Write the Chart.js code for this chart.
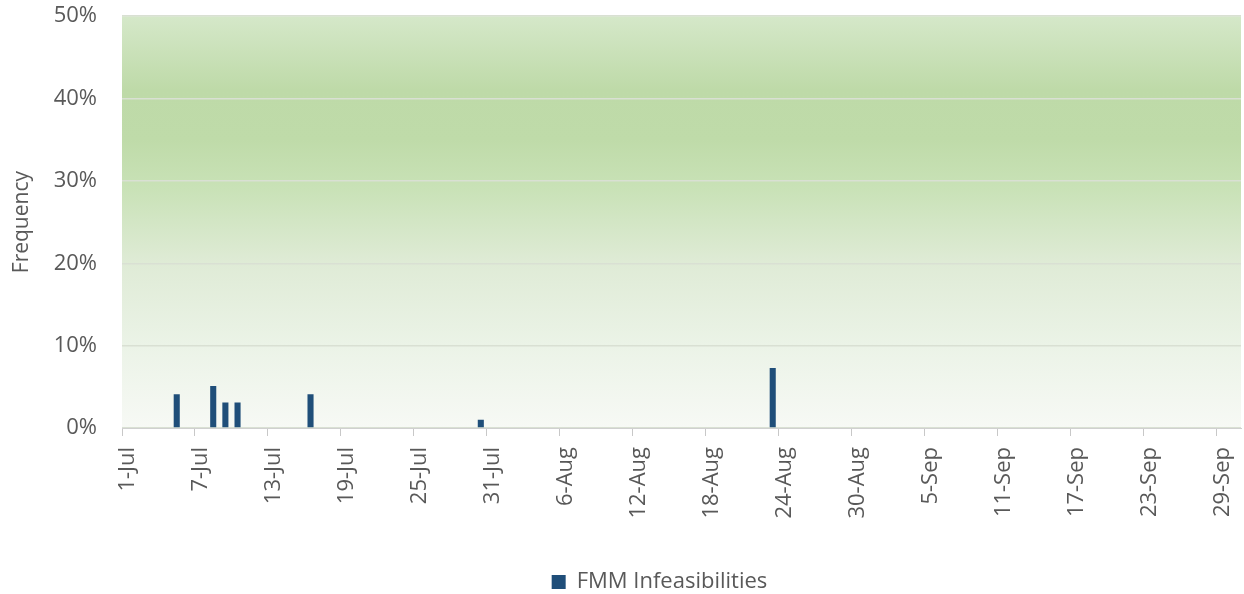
<!DOCTYPE html>
<html>
<head>
<meta charset="utf-8">
<title>FMM Infeasibilities</title>
<script src="https://cdn.jsdelivr.net/npm/chart.js@4.4.1/dist/chart.umd.min.js"></script>
<style>
    html, body { margin: 0; padding: 0; background: #fff; }
    #wrap { width: 1244px; height: 594px; }
</style>
</head>
<body>
<div id="wrap"><canvas id="freqChart" width="1244" height="594"></canvas></div>
<script>
// Months covered by the axis and their lengths
const months = ['Jul', 'Aug', 'Sep'];
const monthDays = [31, 31, 30];

// Labelled ticks (every 6 days)
const tickLabels = ['1-Jul', '7-Jul', '13-Jul', '19-Jul', '25-Jul', '31-Jul', '6-Aug', '12-Aug',
    '18-Aug', '24-Aug', '30-Aug', '5-Sep', '11-Sep', '17-Sep', '23-Sep', '29-Sep'];

// Days with infeasibilities and their frequency (%)
const barDates = ['5-Jul', '8-Jul', '9-Jul', '10-Jul', '16-Jul', '30-Jul', '23-Aug'];
const barValues = [4.1, 5.1, 3.1, 3.1, 4.1, 1.0, 7.3];

const yTicks = [0, 10, 20, 30, 40, 50];

// one category per day
const categories = [];
months.forEach((m, i) => {
    for (let d = 1; d <= monthDays[i]; d++) categories.push(d + '-' + m);
});
const seriesData = categories.map(c => {
    const k = barDates.indexOf(c);
    return k >= 0 ? barValues[k] : null;
});

const textColor = '#595959';
const fontFamily = '"Open Sans", "Liberation Sans", sans-serif';

// green gradient behind the plot area
const plotBackground = {
    id: 'plotBackground',
    beforeDraw(chart) {
        const { ctx, chartArea: a } = chart;
        const g = ctx.createLinearGradient(0, a.top, 0, a.bottom);
        g.addColorStop(0, '#d5e8c9');
        g.addColorStop(0.18, '#bedaa8');
        g.addColorStop(0.3, '#bfdba9');
        g.addColorStop(0.42, '#c9e2b7');
        g.addColorStop(0.6, '#dfebd6');
        g.addColorStop(0.8, '#ebf3e7');
        g.addColorStop(1, '#f7f9f5');
        ctx.save();
        ctx.fillStyle = g;
        ctx.fillRect(a.left, a.top, a.right - a.left, a.bottom - a.top);
        ctx.restore();
    }
};

// move the legend a little right and down, like the original
const legendNudge = {
    id: 'legendNudge',
    afterLayout(chart) {
        const lg = chart.legend;
        lg.left += 39;
        lg.right += 39;
        lg.top += 9;
        lg.bottom += 9;
    }
};

new Chart(document.getElementById('freqChart'), {
    type: 'bar',
    data: {
        labels: categories,
        datasets: [{
            label: 'FMM Infeasibilities',
            data: seriesData,
            backgroundColor: '#1f4e79',
            borderWidth: 0,
            barPercentage: 0.5,
            categoryPercentage: 1.0
        }]
    },
    options: {
        responsive: false,
        animation: false,
        layout: { padding: { top: 16, right: 3, left: 0, bottom: 0 } },
        plugins: {
            tooltip: { enabled: false },
            legend: {
                position: 'bottom',
                labels: {
                    color: textColor,
                    font: { family: fontFamily, size: 22 },
                    boxWidth: 14,
                    boxHeight: 14,
                    padding: 2
                }
            }
        },
        scales: {
            x: {
                offset: true,
                afterFit: s => {
                    s.height = 132;
                    s.paddingLeft = 0;
                    s.paddingRight = 0;
                },
                grid: {
                    offset: true,
                    drawOnChartArea: false,
                    drawTicks: true,
                    tickLength: 8,
                    tickColor: ctx => (ctx.index !== undefined && ctx.index % 6 === 0) ? '#c8c8c8' : 'rgba(0,0,0,0)'
                },
                border: { display: true, color: '#d0d0d0', width: 1 },
                ticks: {
                    autoSkip: false,
                    maxRotation: 90,
                    minRotation: 90,
                    padding: 11,
                    color: textColor,
                    font: { family: fontFamily, size: 22 },
                    callback: function (value) {
                        const lbl = this.getLabelForValue(value);
                        return tickLabels.includes(lbl) ? lbl : '';
                    }
                }
            },
            y: {
                min: 0,
                max: 50,
                afterFit: s => { s.width = 122; },
                afterBuildTicks: s => { s.ticks = yTicks.map(v => ({ value: v })); },
                grid: {
                    color: '#d9e0d3',
                    lineWidth: 1.5,
                    drawTicks: true,
                    tickLength: 22,
                    tickColor: 'rgba(0,0,0,0)'
                },
                border: { display: false },
                ticks: {
                    padding: 3,
                    color: textColor,
                    font: { family: fontFamily, size: 22 },
                    callback: v => v + '%'
                },
                title: {
                    display: true,
                    text: 'Frequency',
                    color: textColor,
                    font: { family: fontFamily, size: 21 },
                    padding: { top: 9, bottom: 0 }
                }
            }
        }
    },
    plugins: [plotBackground, legendNudge]
});
</script>
</body>
</html>
